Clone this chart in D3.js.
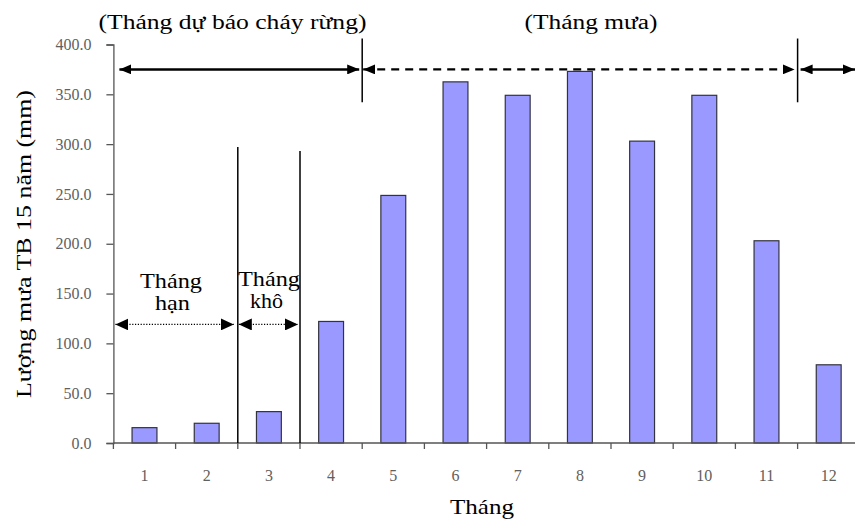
<!DOCTYPE html>
<html>
<head>
<meta charset="utf-8">
<script src="https://cdn.jsdelivr.net/npm/d3@7"></script>
<style>
  html, body { margin: 0; padding: 0; background: #fff; }
  svg { display: block; }
  text { font-family: "Liberation Serif", "Times New Roman", serif; font-weight: normal; }
</style>
</head>
<body>
<div id="chart"></div>
<script>
// ---- data ----
const months = [1, 2, 3, 4, 5, 6, 7, 8, 9, 10, 11, 12];
const rainfall = [15.4, 19.8, 31.5, 122, 248.5, 362.5, 349, 373, 303, 349, 203, 78.5];
const yTicks = [0, 50, 100, 150, 200, 250, 300, 350, 400];
const yTitle = "Lượng mưa TB 15 năm (mm)";
const xTitle = "Tháng";
const topLabels = ["(Tháng dự báo cháy rừng)", "(Tháng mưa)"];
const hanLabel = ["Tháng", "hạn"];
const khoLabel = ["Tháng", "khô"];

// ---- layout ----
const W = 855, H = 521;
const svg = d3.select("#chart").append("svg").attr("width", W).attr("height", H);

const x = d3.scaleBand().domain(months).range([113.4, 113.4 + 12 * 62.2]).paddingInner(0).paddingOuter(0);
const y = d3.scaleLinear().domain([0, 400]).range([443, 44.5]);
const step = x.step();

// bars
svg.append("g").selectAll("rect").data(months).join("rect")
  .attr("x", (d) => x(d) + step * 0.3)
  .attr("width", step * 0.4)
  .attr("y", (d, i) => y(rainfall[i]))
  .attr("height", (d, i) => y(0) - y(rainfall[i]))
  .attr("fill", "#9999ff")
  .attr("stroke", "#333340")
  .attr("stroke-width", 1.2);

// y axis
const yAxis = d3.axisLeft(y).tickValues(yTicks).tickFormat(d3.format(".1f")).tickSize(7).tickPadding(15);
const gy = svg.append("g").attr("transform", `translate(${x.range()[0]},0)`).call(yAxis);
gy.select(".domain").attr("stroke", "#555").attr("stroke-width", 1.3);
gy.selectAll(".tick line").attr("stroke", "#555").attr("stroke-width", 1.3);
gy.selectAll(".tick text").attr("fill", "#606060").style("font-size", "16px")
  .style("font-family", "'Liberation Serif', serif");

// x axis line
svg.append("line").attr("x1", x.range()[0]).attr("x2", W).attr("y1", y(0)).attr("y2", y(0))
  .attr("stroke", "#555").attr("stroke-width", 1.3);
// x ticks between categories
svg.append("g").selectAll("line").data(months).join("line")
  .attr("x1", (d) => x(d)).attr("x2", (d) => x(d))
  .attr("y1", y(0)).attr("y2", y(0) + 6)
  .attr("stroke", "#555").attr("stroke-width", 1.3);
svg.append("g").selectAll("text").data(months).join("text")
  .attr("x", (d) => x(d) + step / 2).attr("y", 481)
  .attr("text-anchor", "middle").attr("fill", "#606060").style("font-size", "16px")
  .text((d) => d);

// axis titles
svg.append("text").attr("x", 482).attr("y", 514).attr("text-anchor", "middle")
  .style("font-size", "22px").attr("textLength", 64).attr("lengthAdjust", "spacingAndGlyphs").text(xTitle);
svg.append("text").attr("transform", "translate(31,244) rotate(-90)").attr("text-anchor", "middle")
  .style("font-size", "21px").attr("textLength", 308).attr("lengthAdjust", "spacingAndGlyphs").text(yTitle);

// ---- annotations ----
const defs = svg.append("defs");
function marker(id, w, h) {
  defs.append("marker").attr("id", id).attr("viewBox", `0 0 ${w} ${h}`)
    .attr("refX", w).attr("refY", h / 2).attr("markerWidth", w).attr("markerHeight", h)
    .attr("markerUnits", "userSpaceOnUse").attr("orient", "auto-start-reverse")
    .append("path").attr("d", `M0,0L${w},${h / 2}L0,${h}Z`).attr("fill", "#000");
}
marker("headBig", 12, 10);
marker("headDot", 13, 12);

function arrow(x1, x2, yy, opts) {
  svg.append("line").attr("x1", x1).attr("x2", x2).attr("y1", yy).attr("y2", yy)
    .attr("stroke", "#000").attr("stroke-width", opts.w)
    .attr("stroke-dasharray", opts.dash || null)
    .attr("marker-start", `url(#${opts.head})`).attr("marker-end", `url(#${opts.head})`);
}
function vline(xx, v1, v2, w) {
  svg.append("line").attr("x1", xx).attr("x2", xx).attr("y1", y(v1)).attr("y2", y(v2))
    .attr("stroke", "#000").attr("stroke-width", w);
}

const arrY = y(375);
arrow(x(1) + 6, x(5) - 3, arrY, { w: 2.5, head: "headBig" });
arrow(x(5) + 1, x(12) - 3, arrY, { w: 2.2, head: "headBig", dash: "8,6" });
arrow(x(12) + 3, W, arrY, { w: 2.5, head: "headBig" });
vline(x(5), 406, 342, 1.5);
vline(x(12), 406, 342, 1.5);

vline(x(3), 297, 0, 1.5);
vline(x(4), 293, 0, 1.5);
const dotY = y(119);
arrow(x(1) + 2, x(3) - 4, dotY, { w: 1.2, head: "headDot", dash: "1.2,1.6" });
arrow(x(3) + 1, x(4) - 2, dotY, { w: 1.2, head: "headDot", dash: "1.2,1.6" });

// texts
svg.append("text").attr("x", 232.5).attr("y", 29).attr("text-anchor", "middle")
  .style("font-size", "20px").attr("textLength", 268).attr("lengthAdjust", "spacingAndGlyphs").text(topLabels[0]);
svg.append("text").attr("x", 591).attr("y", 29).attr("text-anchor", "middle")
  .style("font-size", "20px").attr("textLength", 133).attr("lengthAdjust", "spacingAndGlyphs").text(topLabels[1]);

svg.append("text").attr("x", 171).attr("y", 288).attr("text-anchor", "middle")
  .style("font-size", "21px").attr("textLength", 62).attr("lengthAdjust", "spacingAndGlyphs").text(hanLabel[0]);
svg.append("text").attr("x", 172.5).attr("y", 310).attr("text-anchor", "middle")
  .style("font-size", "21px").attr("textLength", 35).attr("lengthAdjust", "spacingAndGlyphs").text(hanLabel[1]);
svg.append("text").attr("x", 269).attr("y", 286).attr("text-anchor", "middle")
  .style("font-size", "21px").attr("textLength", 62).attr("lengthAdjust", "spacingAndGlyphs").text(khoLabel[0]);
svg.append("text").attr("x", 266.5).attr("y", 308).attr("text-anchor", "middle")
  .style("font-size", "21px").attr("textLength", 33).attr("lengthAdjust", "spacingAndGlyphs").text(khoLabel[1]);
</script>
</body>
</html>
